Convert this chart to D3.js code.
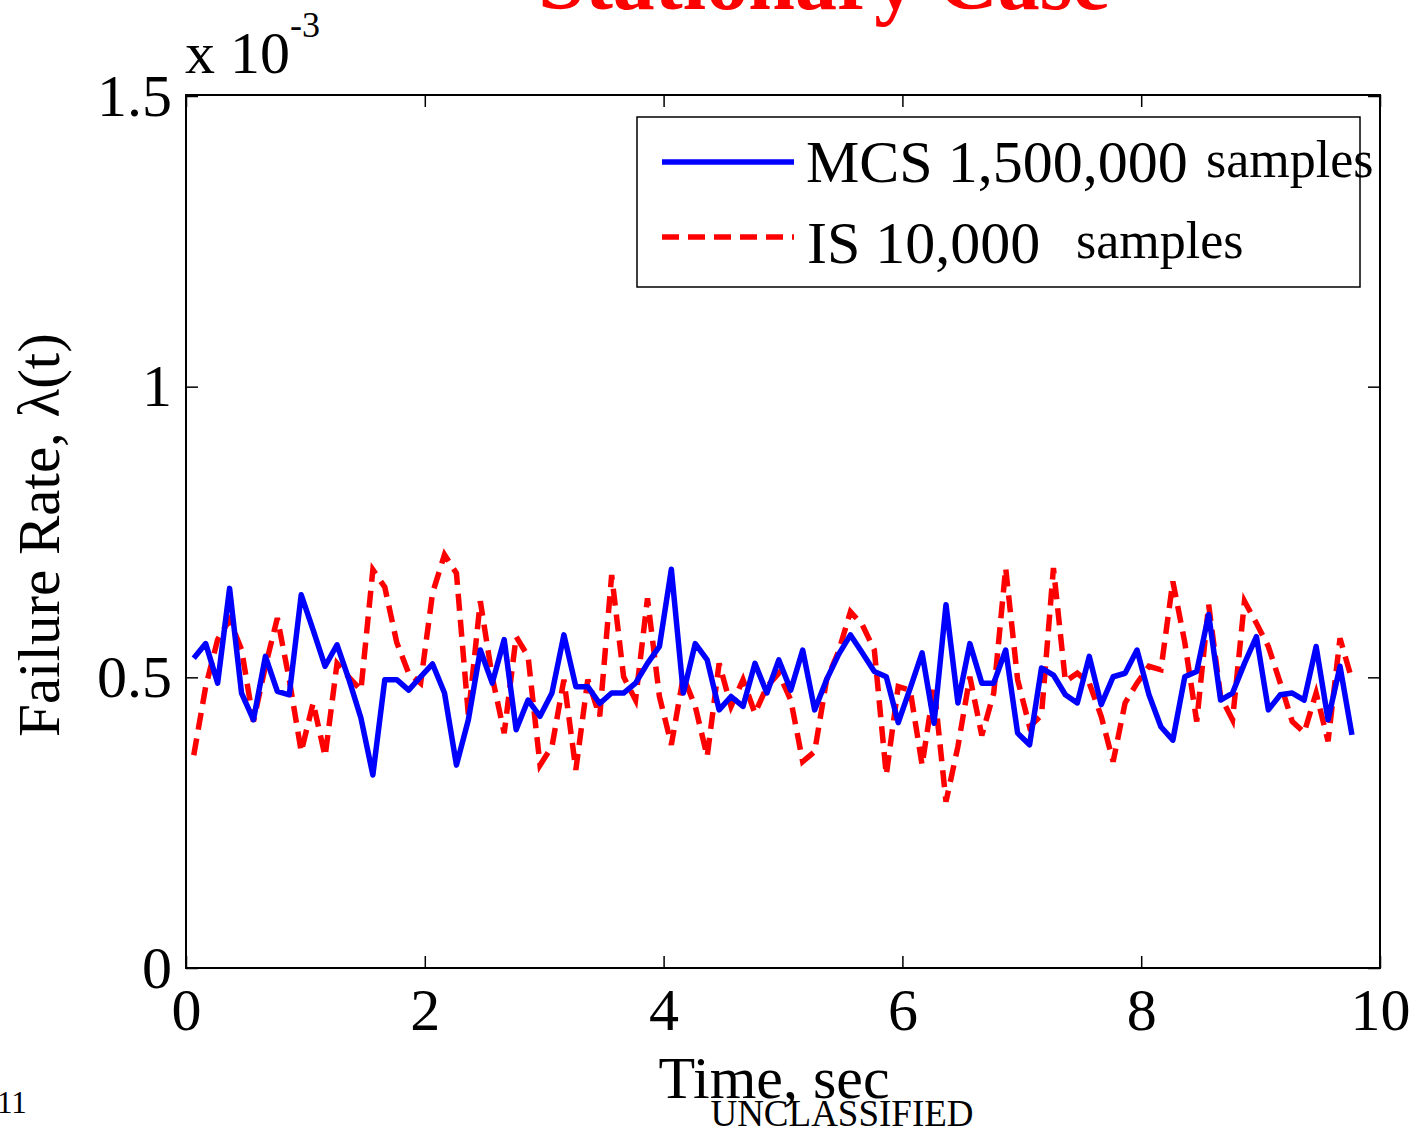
<!DOCTYPE html>
<html>
<head>
<meta charset="utf-8">
<script src="https://cdn.jsdelivr.net/npm/d3@7"></script>
<style>
  body { margin: 0; background: #fff; }
  svg text { font-family: "Liberation Serif", "Times New Roman", serif; }
</style>
</head>
<body>
<svg id="chart" width="1416" height="1128"></svg>
<script>
'use strict';

// sampling grid of the simulation, seconds
var t0 = 0.065, dt = 0.1;

// failure rate, x 10^-3
var mcs = [0.533, 0.558, 0.490, 0.653, 0.473, 0.427, 0.536, 0.476, 0.470, 0.642,
           0.581, 0.519, 0.556, 0.496, 0.430, 0.332, 0.496, 0.496, 0.478, 0.501,
           0.523, 0.473, 0.349, 0.427, 0.547, 0.490, 0.565, 0.410, 0.461, 0.433,
           0.473, 0.573, 0.484, 0.484, 0.455, 0.473, 0.473, 0.490, 0.524, 0.553,
           0.686, 0.473, 0.558, 0.530, 0.444, 0.467, 0.450, 0.524, 0.473, 0.530,
           0.478, 0.547, 0.444, 0.496, 0.539, 0.573, 0.542, 0.510, 0.501, 0.422,
           0.481, 0.542, 0.421, 0.625, 0.456, 0.558, 0.490, 0.490, 0.547, 0.404,
           0.384, 0.516, 0.504, 0.470, 0.456, 0.536, 0.453, 0.501, 0.507, 0.547,
           0.470, 0.415, 0.392, 0.501, 0.510, 0.608, 0.461, 0.473, 0.524, 0.570,
           0.444, 0.470, 0.473, 0.461, 0.553, 0.427, 0.519, 0.401];

var is = [0.366, 0.484, 0.565, 0.599, 0.548, 0.424, 0.519, 0.602, 0.496, 0.372,
          0.456, 0.364, 0.524, 0.500, 0.478, 0.685, 0.655, 0.560, 0.507, 0.490,
          0.645, 0.711, 0.679, 0.435, 0.631, 0.500, 0.404, 0.570, 0.536, 0.349,
          0.381, 0.496, 0.341, 0.496, 0.433, 0.676, 0.501, 0.461, 0.636, 0.467,
          0.384, 0.501, 0.450, 0.364, 0.524, 0.450, 0.496, 0.438, 0.484, 0.507,
          0.461, 0.355, 0.372, 0.496, 0.544, 0.613, 0.590, 0.547, 0.332, 0.484,
          0.478, 0.349, 0.484, 0.286, 0.381, 0.501, 0.400, 0.473, 0.688, 0.496,
          0.415, 0.435, 0.688, 0.493, 0.507, 0.490, 0.433, 0.355, 0.456, 0.490,
          0.519, 0.513, 0.665, 0.560, 0.424, 0.625, 0.467, 0.427, 0.631, 0.593,
          0.553, 0.490, 0.424, 0.405, 0.473, 0.390, 0.567, 0.496];

var xTicks = [0, 2, 4, 6, 8, 10];
var yTicks = [0, 0.5, 1, 1.5];
var seriesNames = ['MCS 1,500,000', 'IS 10,000'];

var svg = d3.select('#chart');
var L = 186, R = 1380, T = 96, B = 968;

var x = d3.scaleLinear().domain([0, 10]).range([L, R]);
var y = d3.scaleLinear().domain([0, 1.5]).range([B, T]);

svg.append('rect').attr('width', 1416).attr('height', 1128).attr('fill', '#fff');

function styleAxis(g) {
  g.select('.domain').remove();
  g.selectAll('.tick line').attr('stroke', '#000').attr('stroke-width', 1.5);
  g.selectAll('.tick text').attr('fill', '#000').style('font-size', '60px');
}

svg.append('g').attr('transform', 'translate(0,' + B + ')')
  .call(d3.axisBottom(x).tickValues(xTicks).tickFormat(d3.format('d')).tickSize(-12).tickPadding(19))
  .call(styleAxis);
svg.append('g').attr('transform', 'translate(0,' + (T - 1) + ')')
  .call(d3.axisTop(x).tickValues(xTicks).tickFormat('').tickSize(-12))
  .call(styleAxis);
svg.append('g').attr('transform', 'translate(' + L + ',0)')
  .call(d3.axisLeft(y).tickValues(yTicks).tickFormat(d3.format('')).tickSize(-12).tickPadding(14))
  .call(styleAxis);
svg.append('g').attr('transform', 'translate(' + R + ',0)')
  .call(d3.axisRight(y).tickValues(yTicks).tickFormat('').tickSize(-12))
  .call(styleAxis);

svg.append('rect')
  .attr('x', L).attr('y', T - 1).attr('width', R - L).attr('height', B - T + 1)
  .attr('fill', 'none').attr('stroke', '#000').attr('stroke-width', 2);

var line = d3.line()
  .x(function(d, i) { return x(t0 + i * dt); })
  .y(function(d) { return y(d); });

svg.append('path').datum(is)
  .attr('d', line).attr('fill', 'none')
  .attr('stroke', '#ff0000').attr('stroke-width', 5.5)
  .attr('stroke-dasharray', '17,9');

svg.append('path').datum(mcs)
  .attr('d', line).attr('fill', 'none')
  .attr('stroke', '#0000ff').attr('stroke-width', 5.5)
  .attr('stroke-linejoin', 'round');

// legend
var leg = svg.append('g');
leg.append('rect')
  .attr('x', 637).attr('y', 117).attr('width', 723).attr('height', 170)
  .attr('fill', '#fff').attr('stroke', '#000').attr('stroke-width', 1.5);
leg.append('line').attr('x1', 662).attr('x2', 794).attr('y1', 162).attr('y2', 162)
  .attr('stroke', '#0000ff').attr('stroke-width', 5.5);
leg.append('line').attr('x1', 662).attr('x2', 794).attr('y1', 237).attr('y2', 237)
  .attr('stroke', '#ff0000').attr('stroke-width', 5.5).attr('stroke-dasharray', '17,9');
leg.append('text').attr('x', 806).attr('y', 182).style('font-size', '60px').text(seriesNames[0]);
leg.append('text').attr('x', 1206).attr('y', 177).style('font-size', '52px').text('samples');
leg.append('text').attr('x', 807).attr('y', 263).style('font-size', '60px').text(seriesNames[1]);
leg.append('text').attr('x', 1076).attr('y', 258).style('font-size', '52px').text('samples');

// labels
svg.append('text')
  .attr('x', 824).attr('y', 9)
  .attr('text-anchor', 'middle')
  .attr('fill', '#ff0000')
  .style('font-size', '84px').style('font-weight', 'bold')
  .text('Stationary Case');

var ex = svg.append('text').attr('x', 185).attr('y', 73).style('font-size', '60px');
ex.append('tspan').text('x 10');
ex.append('tspan').attr('dy', -36).style('font-size', '36px').text('-3');

svg.append('text')
  .attr('transform', 'translate(59,535) rotate(-90)')
  .attr('text-anchor', 'middle')
  .style('font-size', '59px')
  .text('Failure Rate, \u03bb(t)');

svg.append('text')
  .attr('x', 774).attr('y', 1098)
  .attr('text-anchor', 'middle')
  .style('font-size', '60px')
  .text('Time, sec');

svg.append('text')
  .attr('x', 842).attr('y', 1126)
  .attr('text-anchor', 'middle')
  .style('font-size', '37px')
  .text('UNCLASSIFIED');

svg.append('text')
  .attr('x', -3).attr('y', 1113)
  .style('font-size', '31px')
  .text('11');
</script>
</body>
</html>
